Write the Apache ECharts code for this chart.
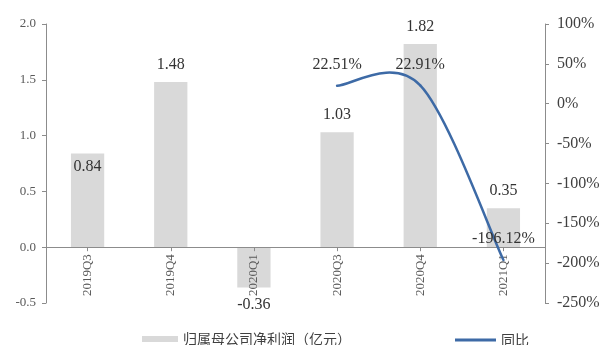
<!DOCTYPE html>
<html>
<head>
<meta charset="utf-8">
<script src="https://cdn.jsdelivr.net/npm/echarts@6/dist/echarts.min.js"></script>
<style>
  html, body { margin: 0; padding: 0; background: #fff; }
  #chart { width: 605px; height: 345px; }
</style>
</head>
<body>
<div id="chart"></div>
<script>
// Quarterly net profit attributable to parent (亿元) and YoY growth (%)
const quarters = ['2019Q3', '2019Q4', '2020Q1', '2020Q3', '2020Q4', '2021Q1'];
const netProfit = [0.84, 1.48, -0.36, 1.03, 1.82, 0.35];
const yoyGrowth = [null, null, null, 22.51, 22.91, -196.12];
const profitTicks = { min: -0.5, max: 2.0, interval: 0.5 };
const growthTicks = { min: -250, max: 100, interval: 50 };

const serif = '"Liberation Serif", "Times New Roman", serif';
const cjk = '"Noto Sans CJK SC", sans-serif';
const axisGray = '#8c8c8c';
const lineBlue = '#3d6aa6';

const chart = echarts.init(document.getElementById('chart'), null, { renderer: 'canvas' });

const barData = netProfit.map((v, i) => {
  const item = { value: v };
  if (i === 0) {
    item.label = { position: 'insideTop', distance: 5 };
  }
  return item;
});

// growth points that carry a value, as [categoryIndex, value]
const growthPoints = yoyGrowth
  .map((v, i) => (v == null ? null : [i, v]))
  .filter(p => p !== null);

// Smooth curve through the growth points (Catmull-Rom style cubic segments),
// one segment per point from its predecessor, plus the value label.
function renderGrowth(params, api) {
  const k = params.dataIndex;
  const pts = growthPoints.map(p => api.coord(p));
  const cur = pts[k];
  const children = [];
  if (k > 0) {
    const p0 = pts[k - 2] || pts[k - 1];
    const p1 = pts[k - 1];
    const p2 = cur;
    const p3 = pts[k + 1] || cur;
    children.push({
      type: 'bezierCurve',
      shape: {
        x1: p1[0], y1: p1[1],
        cpx1: p1[0] + (p2[0] - p0[0]) / 6, cpy1: p1[1] + (p2[1] - p0[1]) / 6,
        cpx2: p2[0] - (p3[0] - p1[0]) / 6, cpy2: p2[1] - (p3[1] - p1[1]) / 6,
        x2: p2[0], y2: p2[1]
      },
      style: { stroke: lineBlue, lineWidth: 2.5, fill: null, lineCap: 'round' }
    });
  }
  children.push({
    type: 'text',
    x: cur[0], y: cur[1] - 13,
    z2: 10,
    style: {
      text: api.value(1).toFixed(2) + '%',
      fontFamily: serif, fontSize: 16, fill: '#333',
      align: 'center', verticalAlign: 'bottom'
    }
  });
  return { type: 'group', children };
}

// vertical distance from the zero line to the bottom of the plot area,
// used to bring the category labels up under the zero line
const plotHeight = 345 - 24 - 42;
const zeroOffset = plotHeight * (0 - profitTicks.min) / (profitTicks.max - profitTicks.min);

chart.setOption({
  animation: false,
  backgroundColor: '#fff',
  grid: {
    left: 46, right: 60, top: 24, bottom: 42,
    containLabel: false, outerBoundsMode: 'none'
  },
  legend: [
    {
      data: [{ name: '归属母公司净利润（亿元）', icon: 'rect' }],
      left: 137, top: 327,
      itemWidth: 36, itemHeight: 6, itemGap: 8,
      textStyle: { fontFamily: cjk, fontSize: 14, color: '#404040' }
    },
    {
      data: [{ name: '同比', icon: 'rect', itemStyle: { color: lineBlue } }],
      left: 450, top: 328,
      itemWidth: 41, itemHeight: 3,
      textStyle: { fontFamily: cjk, fontSize: 14, color: '#404040' }
    }
  ],
  xAxis: {
    type: 'category',
    data: quarters,
    boundaryGap: true,
    z: 3,
    axisLine: { onZero: true, lineStyle: { color: axisGray, width: 1 } },
    axisTick: { show: true, alignWithLabel: true, length: 4, lineStyle: { color: axisGray } },
    axisLabel: {
      rotate: 90, margin: 7 - zeroOffset,
      fontFamily: serif, fontSize: 13, color: '#595959'
    },
    splitLine: { show: false }
  },
  yAxis: [
    {
      type: 'value',
      min: profitTicks.min, max: profitTicks.max, interval: profitTicks.interval,
      position: 'left',
      axisLine: { show: true, lineStyle: { color: axisGray } },
      axisTick: { show: true, length: 4, lineStyle: { color: axisGray } },
      axisLabel: {
        margin: 10, fontFamily: serif, fontSize: 13, color: '#595959',
        formatter: v => v.toFixed(1)
      },
      splitLine: { show: false }
    },
    {
      type: 'value',
      min: growthTicks.min, max: growthTicks.max, interval: growthTicks.interval,
      position: 'right',
      axisLine: { show: true, lineStyle: { color: axisGray } },
      axisTick: { show: true, length: 4, lineStyle: { color: axisGray } },
      axisLabel: {
        margin: 12, fontFamily: serif, fontSize: 16, color: '#404040',
        formatter: '{value}%'
      },
      splitLine: { show: false }
    }
  ],
  series: [
    {
      name: '归属母公司净利润（亿元）',
      type: 'bar',
      yAxisIndex: 0,
      data: barData,
      barWidth: '40%',
      itemStyle: { color: '#d9d9d9' },
      label: {
        show: true, position: 'outside', distance: 9,
        fontFamily: serif, fontSize: 16, color: '#333',
        formatter: p => (p.value == null ? '' : Number(p.value).toFixed(2))
      },
      z: 2
    },
    {
      name: '同比',
      type: 'custom',
      yAxisIndex: 1,
      data: growthPoints,
      encode: { x: 0, y: 1 },
      itemStyle: { color: lineBlue },
      renderItem: renderGrowth,
      clip: false,
      z: 4
    }
  ]
});
</script>
</body>
</html>
